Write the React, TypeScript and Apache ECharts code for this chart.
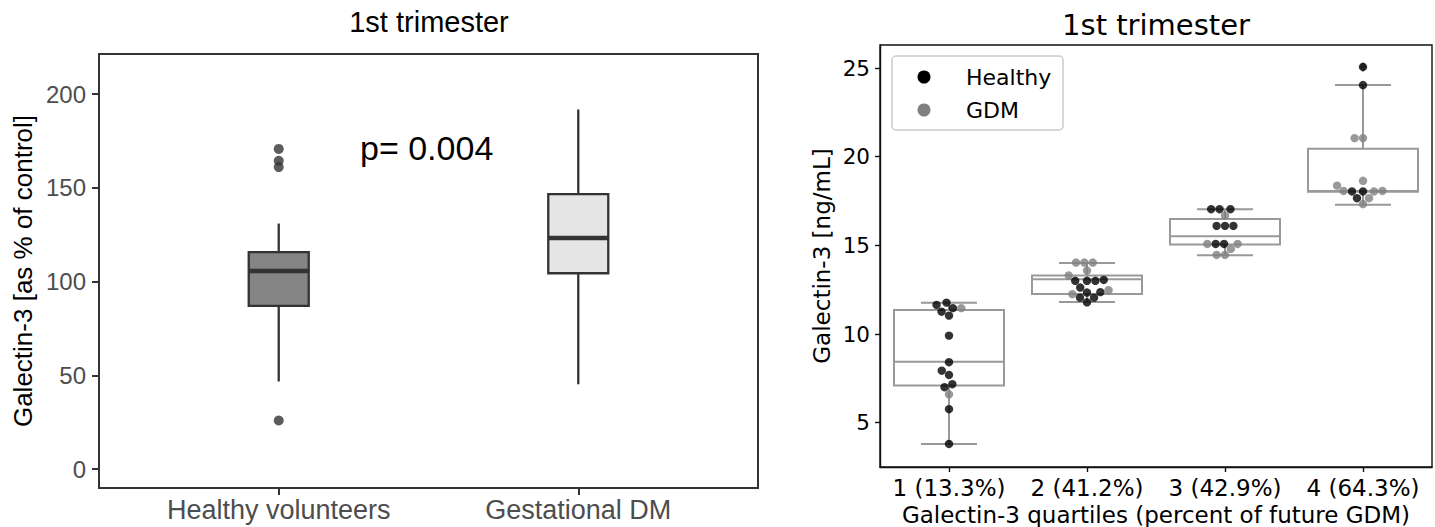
import React, { useEffect, useRef } from "react";
import * as echarts from "echarts";

// ---------- Left panel data ----------
const leftTitle = "1st trimester";
const leftCategories = ["Healthy volunteers", "Gestational DM"];
// [min whisker, Q1, median, Q3, max whisker]
const leftBoxes = [
  [46.8, 87.1, 105.7, 115.8, 131.0],
  [45.3, 104.5, 123.3, 146.7, 191.8],
];
const leftFills = ["#858585", "#e5e5e5"];
const leftOutlierGroup = [1, 1, 1, 1];
const leftOutlierValues = [170.8, 164.5, 161.1, 26.0];
const leftTicks = [0, 50, 100, 150, 200];
const pValueText = "p= 0.004";
const leftYName = "Galectin-3 [as % of control]";

// ---------- Right panel data ----------
const rightTitle = "1st trimester";
const rightCategories = ["1 (13.3%)", "2 (41.2%)", "3 (42.9%)", "4 (64.3%)"];
const rightTicks = [5, 10, 15, 20, 25];
const rightBoxes = [
  [3.8, 7.09, 8.44, 11.36, 11.77],
  [11.8, 12.25, 13.09, 13.3, 14.0],
  [14.44, 15.05, 15.52, 16.48, 17.04],
  [17.29, 18.02, 18.07, 20.45, 24.04],
];
const rightFlierGroup = [3];
const rightFlierValues = [25.06];
const healthyByQuartile = [
  [11.77, 11.64, 11.46, 11.26, 11.04, 9.91, 8.41, 7.93, 7.69, 7.17, 7.0, 5.76, 3.8],
  [13.05, 13.0, 13.0, 13.0, 12.62, 12.36, 12.34, 12.05, 12.05, 11.79],
  [17.04, 17.04, 17.04, 16.1, 16.1, 16.1, 15.08, 15.08],
  [25.06, 24.04, 18.04, 18.04, 17.66],
];
const gdmByQuartile = [
  [11.46, 6.6],
  [14.03, 14.03, 14.03, 13.58, 13.3, 12.47, 12.25],
  [16.68, 15.08, 15.08, 14.8, 14.46, 14.46],
  [21.05, 21.05, 18.64, 18.37, 18.04, 18.07, 18.07, 17.66, 17.33],
];
const legendNames = ["Healthy", "GDM"];
const rightYName = "Galectin-3 [ng/mL]";
const rightXName = "Galectin-3 quartiles (percent of future GDM)";

// ---------- Layout ----------
const LEFT_GRID = { left: 99, top: 54, width: 659, height: 434 };
const RIGHT_GRID = { left: 880, top: 45, width: 552, height: 422 };
const LEFT_Y = [-10, 221.4];
const LEFT_X = [0.4, 2.6];
const RIGHT_Y = [2.5, 26.3];
const RIGHT_X = [-0.5, 3.5];
const DOT = 8.4;

// Beeswarm layout (seaborn-like): points sorted by value, each placed at the
// position nearest to the category centre that does not overlap earlier points.
function swarm(healthy: number[], gdm: number[], cat: number) {
  const pxPerY = RIGHT_GRID.height / (RIGHT_Y[1] - RIGHT_Y[0]);
  const pxPerX = RIGHT_GRID.width / (RIGHT_X[1] - RIGHT_X[0]);
  const pts = [
    ...healthy.map((v) => ({ v, g: 0 })),
    ...gdm.map((v) => ({ v, g: 1 })),
  ];
  const order = pts.map((_, i) => i).sort((a, b) => pts[a].v - pts[b].v);
  const placed: { x: number; y: number }[] = [];
  const out: { value: number[]; g: number }[] = [];
  for (const i of order) {
    const y = pts[i].v * pxPerY;
    const nb = placed.filter((p) => Math.abs(p.y - y) < DOT);
    const cands: number[] = [0];
    let leftFirst = true;
    for (const n of nb) {
      const dx = Math.sqrt(Math.max(0, DOT * DOT - (y - n.y) * (y - n.y)));
      if (leftFirst) cands.push(n.x - dx, n.x + dx);
      else cands.push(n.x + dx, n.x - dx);
      leftFirst = !leftFirst;
    }
    const sorted = cands
      .map((c, k) => ({ c, k }))
      .sort((a, b) => Math.abs(a.c) - Math.abs(b.c) || a.k - b.k);
    let x = 0;
    for (const { c } of sorted) {
      if (nb.every((n) => (c - n.x) * (c - n.x) + (y - n.y) * (y - n.y) >= DOT * DOT - 1e-3)) {
        x = c;
        break;
      }
    }
    placed.push({ x, y });
    out.push({ value: [cat + x / pxPerX, pts[i].v], g: pts[i].g });
  }
  return out;
}

function makeBoxRenderer(cfg: {
  boxPx: number;
  capPx: number;
  stroke: string;
  lineWidth: number;
  medianWidth: number;
  fills: string[];
}) {
  return (params: any, api: any) => {
    const x = api.value(0);
    const [cx, yMin] = api.coord([x, api.value(1)]);
    const yQ1 = api.coord([x, api.value(2)])[1];
    const yMed = api.coord([x, api.value(3)])[1];
    const yQ3 = api.coord([x, api.value(4)])[1];
    const yMax = api.coord([x, api.value(5)])[1];
    const h = cfg.boxPx / 2;
    const c = cfg.capPx / 2;
    const ls = { stroke: cfg.stroke, lineWidth: cfg.lineWidth };
    const children: any[] = [
      { type: "line", shape: { x1: cx, y1: yQ3, x2: cx, y2: yMax }, style: ls },
      { type: "line", shape: { x1: cx, y1: yQ1, x2: cx, y2: yMin }, style: ls },
      {
        type: "rect",
        shape: { x: cx - h, y: yQ3, width: cfg.boxPx, height: yQ1 - yQ3 },
        style: { fill: cfg.fills[params.dataIndex % cfg.fills.length], stroke: cfg.stroke, lineWidth: cfg.lineWidth },
      },
      {
        type: "line",
        shape: { x1: cx - h, y1: yMed, x2: cx + h, y2: yMed },
        style: { stroke: cfg.stroke, lineWidth: cfg.medianWidth },
      },
    ];
    if (cfg.capPx > 0) {
      children.push(
        { type: "line", shape: { x1: cx - c, y1: yMax, x2: cx + c, y2: yMax }, style: ls },
        { type: "line", shape: { x1: cx - c, y1: yMin, x2: cx + c, y2: yMin }, style: ls }
      );
    }
    return { type: "group", children };
  };
}

export default function App() {
  const ref = useRef<HTMLDivElement>(null);

  useEffect(() => {
    if (!ref.current) return;
    const chart = echarts.init(ref.current, null, { renderer: "svg" });

    const swarmPts = rightBoxes.flatMap((_, q) => swarm(healthyByQuartile[q], gdmByQuartile[q], q));
    const healthyPts = swarmPts.filter((p) => p.g === 0).map((p) => p.value);
    const gdmPts = swarmPts.filter((p) => p.g === 1).map((p) => p.value);

    const LS = "Liberation Sans";
    const DJ = "DejaVu Sans";

    const option: any = {
      animation: false,
      backgroundColor: "#ffffff",
      title: [
        {
          text: leftTitle,
          left: 429,
          top: 7,
          textAlign: "center",
          padding: 0,
          textStyle: { fontFamily: LS, fontSize: 29, fontWeight: "normal", color: "#000" },
        },
        {
          text: rightTitle,
          left: 1156,
          top: 10,
          textAlign: "center",
          padding: 0,
          textStyle: { fontFamily: DJ, fontSize: 29, fontWeight: "normal", color: "#000" },
        },
      ],
      grid: [
        {
          ...LEFT_GRID,
          outerBoundsMode: "none",
          containLabel: false,
          show: true,
          borderColor: "#333",
          borderWidth: 2,
          backgroundColor: "#fff",
        },
        {
          ...RIGHT_GRID,
          outerBoundsMode: "none",
          containLabel: false,
          show: true,
          borderColor: "#111",
          borderWidth: 1.4,
          backgroundColor: "#fff",
        },
      ],
      xAxis: [
        {
          type: "value",
          gridIndex: 0,
          min: LEFT_X[0],
          max: LEFT_X[1],
          axisLine: { show: true, onZero: false, lineStyle: { color: "#333", width: 2 } },
          axisTick: { show: true, customValues: [1, 2], length: 7, lineStyle: { color: "#333", width: 2 } },
          axisLabel: {
            customValues: [1, 2],
            formatter: (v: number) => leftCategories[Math.round(v) - 1] ?? "",
            fontFamily: LS,
            fontSize: 27,
            color: "#4d4d4d",
            margin: 8,
          },
          splitLine: { show: false },
        },
        {
          type: "value",
          gridIndex: 1,
          min: RIGHT_X[0],
          max: RIGHT_X[1],
          name: rightXName,
          nameLocation: "middle",
          nameGap: 30,
          nameTextStyle: { fontFamily: DJ, fontSize: 23, color: "#000" },
          axisLine: { show: true, onZero: false, lineStyle: { color: "#111", width: 1.4 } },
          axisTick: { show: true, customValues: [0, 1, 2, 3], length: 5, lineStyle: { color: "#111", width: 1.4 } },
          axisLabel: {
            customValues: [0, 1, 2, 3],
            formatter: (v: number) => rightCategories[Math.round(v)] ?? "",
            fontFamily: DJ,
            fontSize: 23,
            color: "#000",
            margin: 9,
          },
          splitLine: { show: false },
        },
      ],
      yAxis: [
        {
          type: "value",
          gridIndex: 0,
          min: LEFT_Y[0],
          max: LEFT_Y[1],
          name: leftYName,
          nameLocation: "middle",
          nameGap: 63,
          nameRotate: 90,
          nameTextStyle: { fontFamily: LS, fontSize: 26, color: "#000" },
          axisLine: { show: true, onZero: false, lineStyle: { color: "#333", width: 2 } },
          axisTick: { show: true, customValues: leftTicks, length: 7, lineStyle: { color: "#333", width: 2 } },
          axisLabel: { customValues: leftTicks, fontFamily: LS, fontSize: 24, color: "#4d4d4d", margin: 13 },
          splitLine: { show: false },
        },
        {
          type: "value",
          gridIndex: 1,
          min: RIGHT_Y[0],
          max: RIGHT_Y[1],
          name: rightYName,
          nameLocation: "middle",
          nameGap: 47,
          nameRotate: 90,
          nameTextStyle: { fontFamily: DJ, fontSize: 23, color: "#000" },
          axisLine: { show: true, onZero: false, lineStyle: { color: "#111", width: 1.4 } },
          axisTick: { show: true, customValues: rightTicks, length: 5, lineStyle: { color: "#111", width: 1.4 } },
          axisLabel: { customValues: rightTicks, fontFamily: DJ, fontSize: 21.5, color: "#000", margin: 10 },
          splitLine: { show: false },
        },
      ],
      series: [
        {
          type: "custom",
          name: "left boxes",
          xAxisIndex: 0,
          yAxisIndex: 0,
          z: 2,
          renderItem: makeBoxRenderer({
            boxPx: 60,
            capPx: 0,
            stroke: "#333",
            lineWidth: 2.3,
            medianWidth: 4.5,
            fills: leftFills,
          }),
          encode: { x: 0, y: [1, 2, 3, 4, 5] },
          data: leftBoxes.map((b, i) => [i + 1, ...b]),
        },
        {
          type: "scatter",
          name: "left outliers",
          xAxisIndex: 0,
          yAxisIndex: 0,
          z: 3,
          symbol: "circle",
          symbolSize: 10,
          itemStyle: { color: "#333" },
          data: leftOutlierValues.map((v, i) => [leftOutlierGroup[i], v]),
        },
        {
          type: "custom",
          name: "right boxes",
          xAxisIndex: 1,
          yAxisIndex: 1,
          z: 2,
          renderItem: makeBoxRenderer({
            boxPx: 110,
            capPx: 56,
            stroke: "#999999",
            lineWidth: 2,
            medianWidth: 2,
            fills: ["#ffffff"],
          }),
          encode: { x: 0, y: [1, 2, 3, 4, 5] },
          data: rightBoxes.map((b, i) => [i, ...b]),
        },
        {
          type: "scatter",
          name: "fliers",
          xAxisIndex: 1,
          yAxisIndex: 1,
          z: 3,
          symbol: "diamond",
          symbolSize: [7, 11],
          itemStyle: { color: "#8a8a8a" },
          data: rightFlierValues.map((v, i) => [rightFlierGroup[i], v]),
        },
        {
          type: "scatter",
          name: legendNames[0],
          xAxisIndex: 1,
          yAxisIndex: 1,
          z: 4,
          symbol: "circle",
          symbolSize: DOT,
          itemStyle: { color: "#000000" },
          data: healthyPts,
        },
        {
          type: "scatter",
          name: legendNames[1],
          xAxisIndex: 1,
          yAxisIndex: 1,
          z: 4,
          symbol: "circle",
          symbolSize: DOT,
          itemStyle: { color: "#808080" },
          data: gdmPts,
        },
      ],
      graphic: [
        {
          type: "text",
          x: 360,
          y: 148,
          z: 10,
          style: { text: pValueText, font: `34px "${LS}"`, fill: "#000", verticalAlign: "middle", align: "left" },
        },
        {
          type: "rect",
          z: 10,
          shape: { x: 892, y: 56, width: 171, height: 74, r: 4 },
          style: { fill: "rgba(255,255,255,0.85)", stroke: "#cccccc", lineWidth: 1.5 },
        },
        { type: "circle", z: 11, shape: { cx: 924, cy: 77, r: 6.5 }, style: { fill: "#000000" } },
        { type: "circle", z: 11, shape: { cx: 924, cy: 110, r: 6.5 }, style: { fill: "#808080" } },
        {
          type: "text",
          z: 11,
          x: 966,
          y: 77,
          style: { text: legendNames[0], font: `22px "${DJ}"`, fill: "#000", verticalAlign: "middle" },
        },
        {
          type: "text",
          z: 11,
          x: 966,
          y: 110,
          style: { text: legendNames[1], font: `22px "${DJ}"`, fill: "#000", verticalAlign: "middle" },
        },
      ],
    };

    chart.setOption(option);
    return () => chart.dispose();
  }, []);

  return (
    <div
      ref={ref}
      style={{ position: "absolute", left: 0, top: 0, width: 1435, height: 527, background: "#fff" }}
    />
  );
}
